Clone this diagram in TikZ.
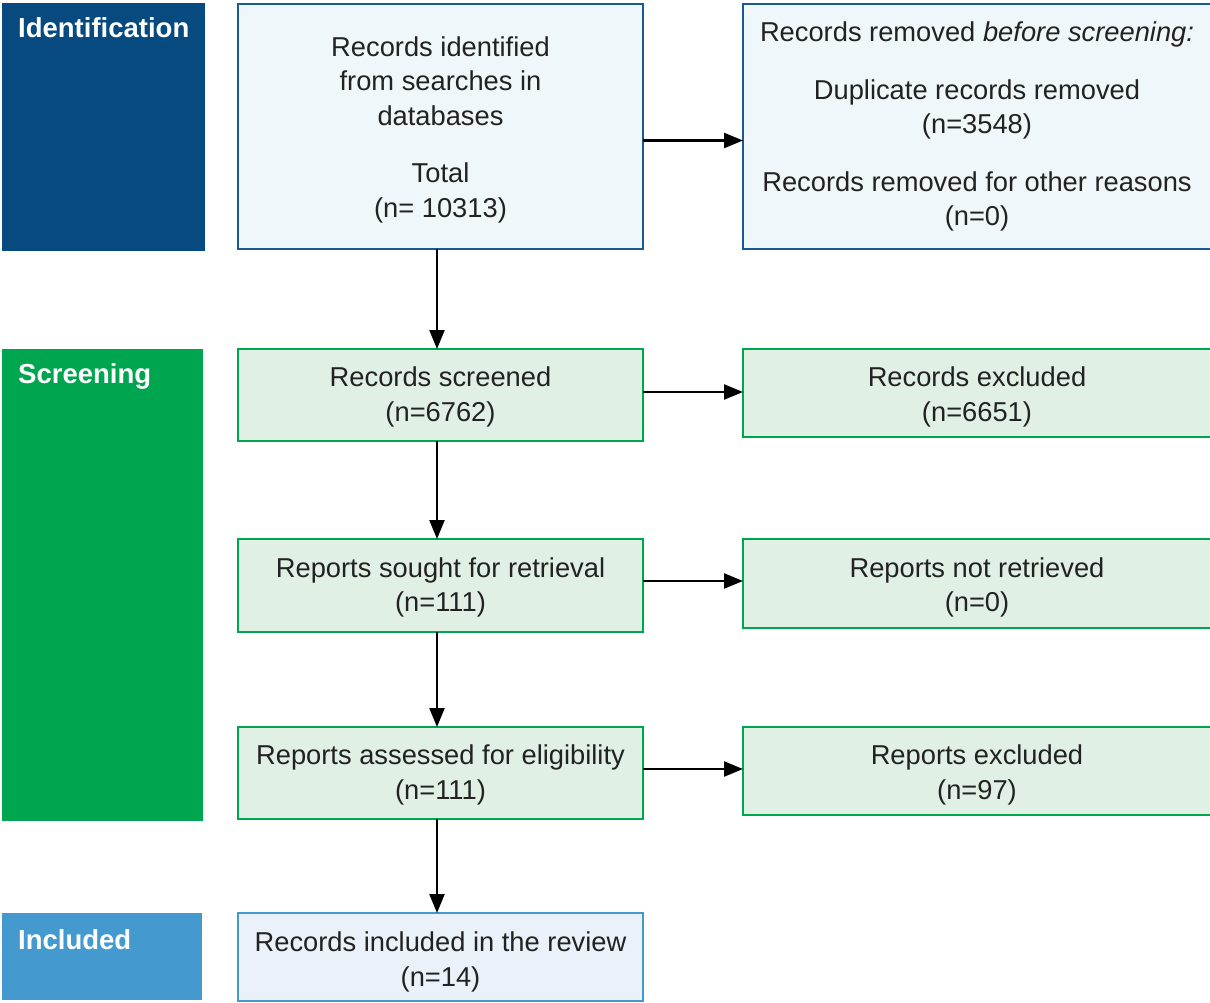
\documentclass[tikz,border=0pt]{standalone}
\usepackage{fontspec}
\setmainfont{Liberation Sans}
\usetikzlibrary{arrows.meta}
\definecolor{idblue}{HTML}{064A80}
\definecolor{scgreen}{HTML}{00A550}
\definecolor{inblue}{HTML}{4499CF}
\definecolor{idfill}{HTML}{EFF7FA}
\definecolor{idline}{HTML}{1A5A92}
\definecolor{scfill}{HTML}{E1F0E5}
\definecolor{infill}{HTML}{EAF1F9}
\definecolor{txt}{HTML}{222222}
\tikzset{
  side/.style={rectangle, inner sep=0pt, outer sep=0pt, draw=none},
  sidetxt/.style={anchor=north west, inner sep=0pt, text=white, font=\fontsize{27.5}{32}\selectfont\bfseries},
  box/.style={rectangle, inner sep=0pt, outer sep=0pt, line width=2pt},
  boxtxt/.style={inner sep=0pt, align=center, text=txt, font=\fontsize{27.3}{34.5}\selectfont},
  idbox/.style={box, draw=idline, fill=idfill},
  scbox/.style={box, draw=scgreen, fill=scfill},
  inbox/.style={box, draw=inblue, fill=infill},
  arr/.style={line width=2.4pt, -{Triangle[length=19pt,width=15pt]}}
}
\begin{document}
\begin{tikzpicture}[x=1pt,y=-1pt]
\useasboundingbox[fill=white] (0,0) rectangle (1210,1003);
% sidebars
\node[side, fill=idblue, minimum width=203, minimum height=248] (sid) at (103.5,127) {};
\node[side, fill=scgreen, minimum width=201, minimum height=472] (ssc) at (102.5,585) {};
\node[side, fill=inblue, minimum width=200, minimum height=87] (sin) at (102,956.5) {};
\node[sidetxt] (tid) at (18,17) {Identification};
\node[sidetxt] (tsc) at (18,363) {Screening};
\node[sidetxt] (tin) at (18,929) {Included};
% boxes
\node[idbox, minimum width=405, minimum height=245] (A) at (440.5,126.5) {};
\node[idbox, minimum width=468, minimum height=245] (B) at (977,126.5) {};
\node[scbox, minimum width=405, minimum height=92] (C) at (440.5,395) {};
\node[scbox, minimum width=468, minimum height=88] (D) at (977,393) {};
\node[scbox, minimum width=405, minimum height=93] (E) at (440.5,585.5) {};
\node[scbox, minimum width=468, minimum height=89] (F) at (977,583.5) {};
\node[scbox, minimum width=405, minimum height=92] (G) at (440.5,773) {};
\node[scbox, minimum width=468, minimum height=88] (H) at (977,771) {};
\node[inbox, minimum width=405, minimum height=88] (I) at (440.5,957) {};
% texts
\node[boxtxt] (At) at (440.5,129.5)
  {Records identified\\from searches in\\databases\\[23pt]Total\\(n= 10313)};
\node[boxtxt] (Bt) at (977,126.5)
  {Records removed \textit{before screening:}\\[23pt]Duplicate records removed\\(n=3548)\\[23pt]Records removed for other reasons\\(n=0)};
\node[boxtxt] (Ct) at (440.5,397) {Records screened\\(n=6762)};
\node[boxtxt] (Dt) at (977,397) {Records excluded\\(n=6651)};
\node[boxtxt] (Et) at (440.5,587.5) {Reports sought for retrieval\\(n=111)};
\node[boxtxt] (Ft) at (977,587.5) {Reports not retrieved\\(n=0)};
\node[boxtxt] (Gt) at (440.5,775) {Reports assessed for eligibility\\(n=111)};
\node[boxtxt] (Ht) at (977,775) {Reports excluded\\(n=97)};
\node[boxtxt] (It) at (440.5,962) {Records included in the review\\(n=14)};
% connectors
\draw[arr] ([yshift=-14pt]A.east) -- ([yshift=-14pt]B.west);
\draw[arr] ([yshift=1pt]D.west -| C.east) -- ([yshift=1pt]D.west);
\draw[arr] ([yshift=2.5pt]F.west -| E.east) -- ([yshift=2.5pt]F.west);
\draw[arr] ([yshift=2pt]H.west -| G.east) -- ([yshift=2pt]H.west);
\draw[arr] ([xshift=-3.5pt]A.south) -- ([xshift=-3.5pt]C.north);
\draw[arr] ([xshift=-3.5pt]C.south) -- ([xshift=-3.5pt]E.north);
\draw[arr] ([xshift=-3.5pt]E.south) -- ([xshift=-3.5pt]G.north);
\draw[arr] ([xshift=-3.5pt]G.south) -- ([xshift=-3.5pt]I.north);
\end{tikzpicture}
\end{document}
